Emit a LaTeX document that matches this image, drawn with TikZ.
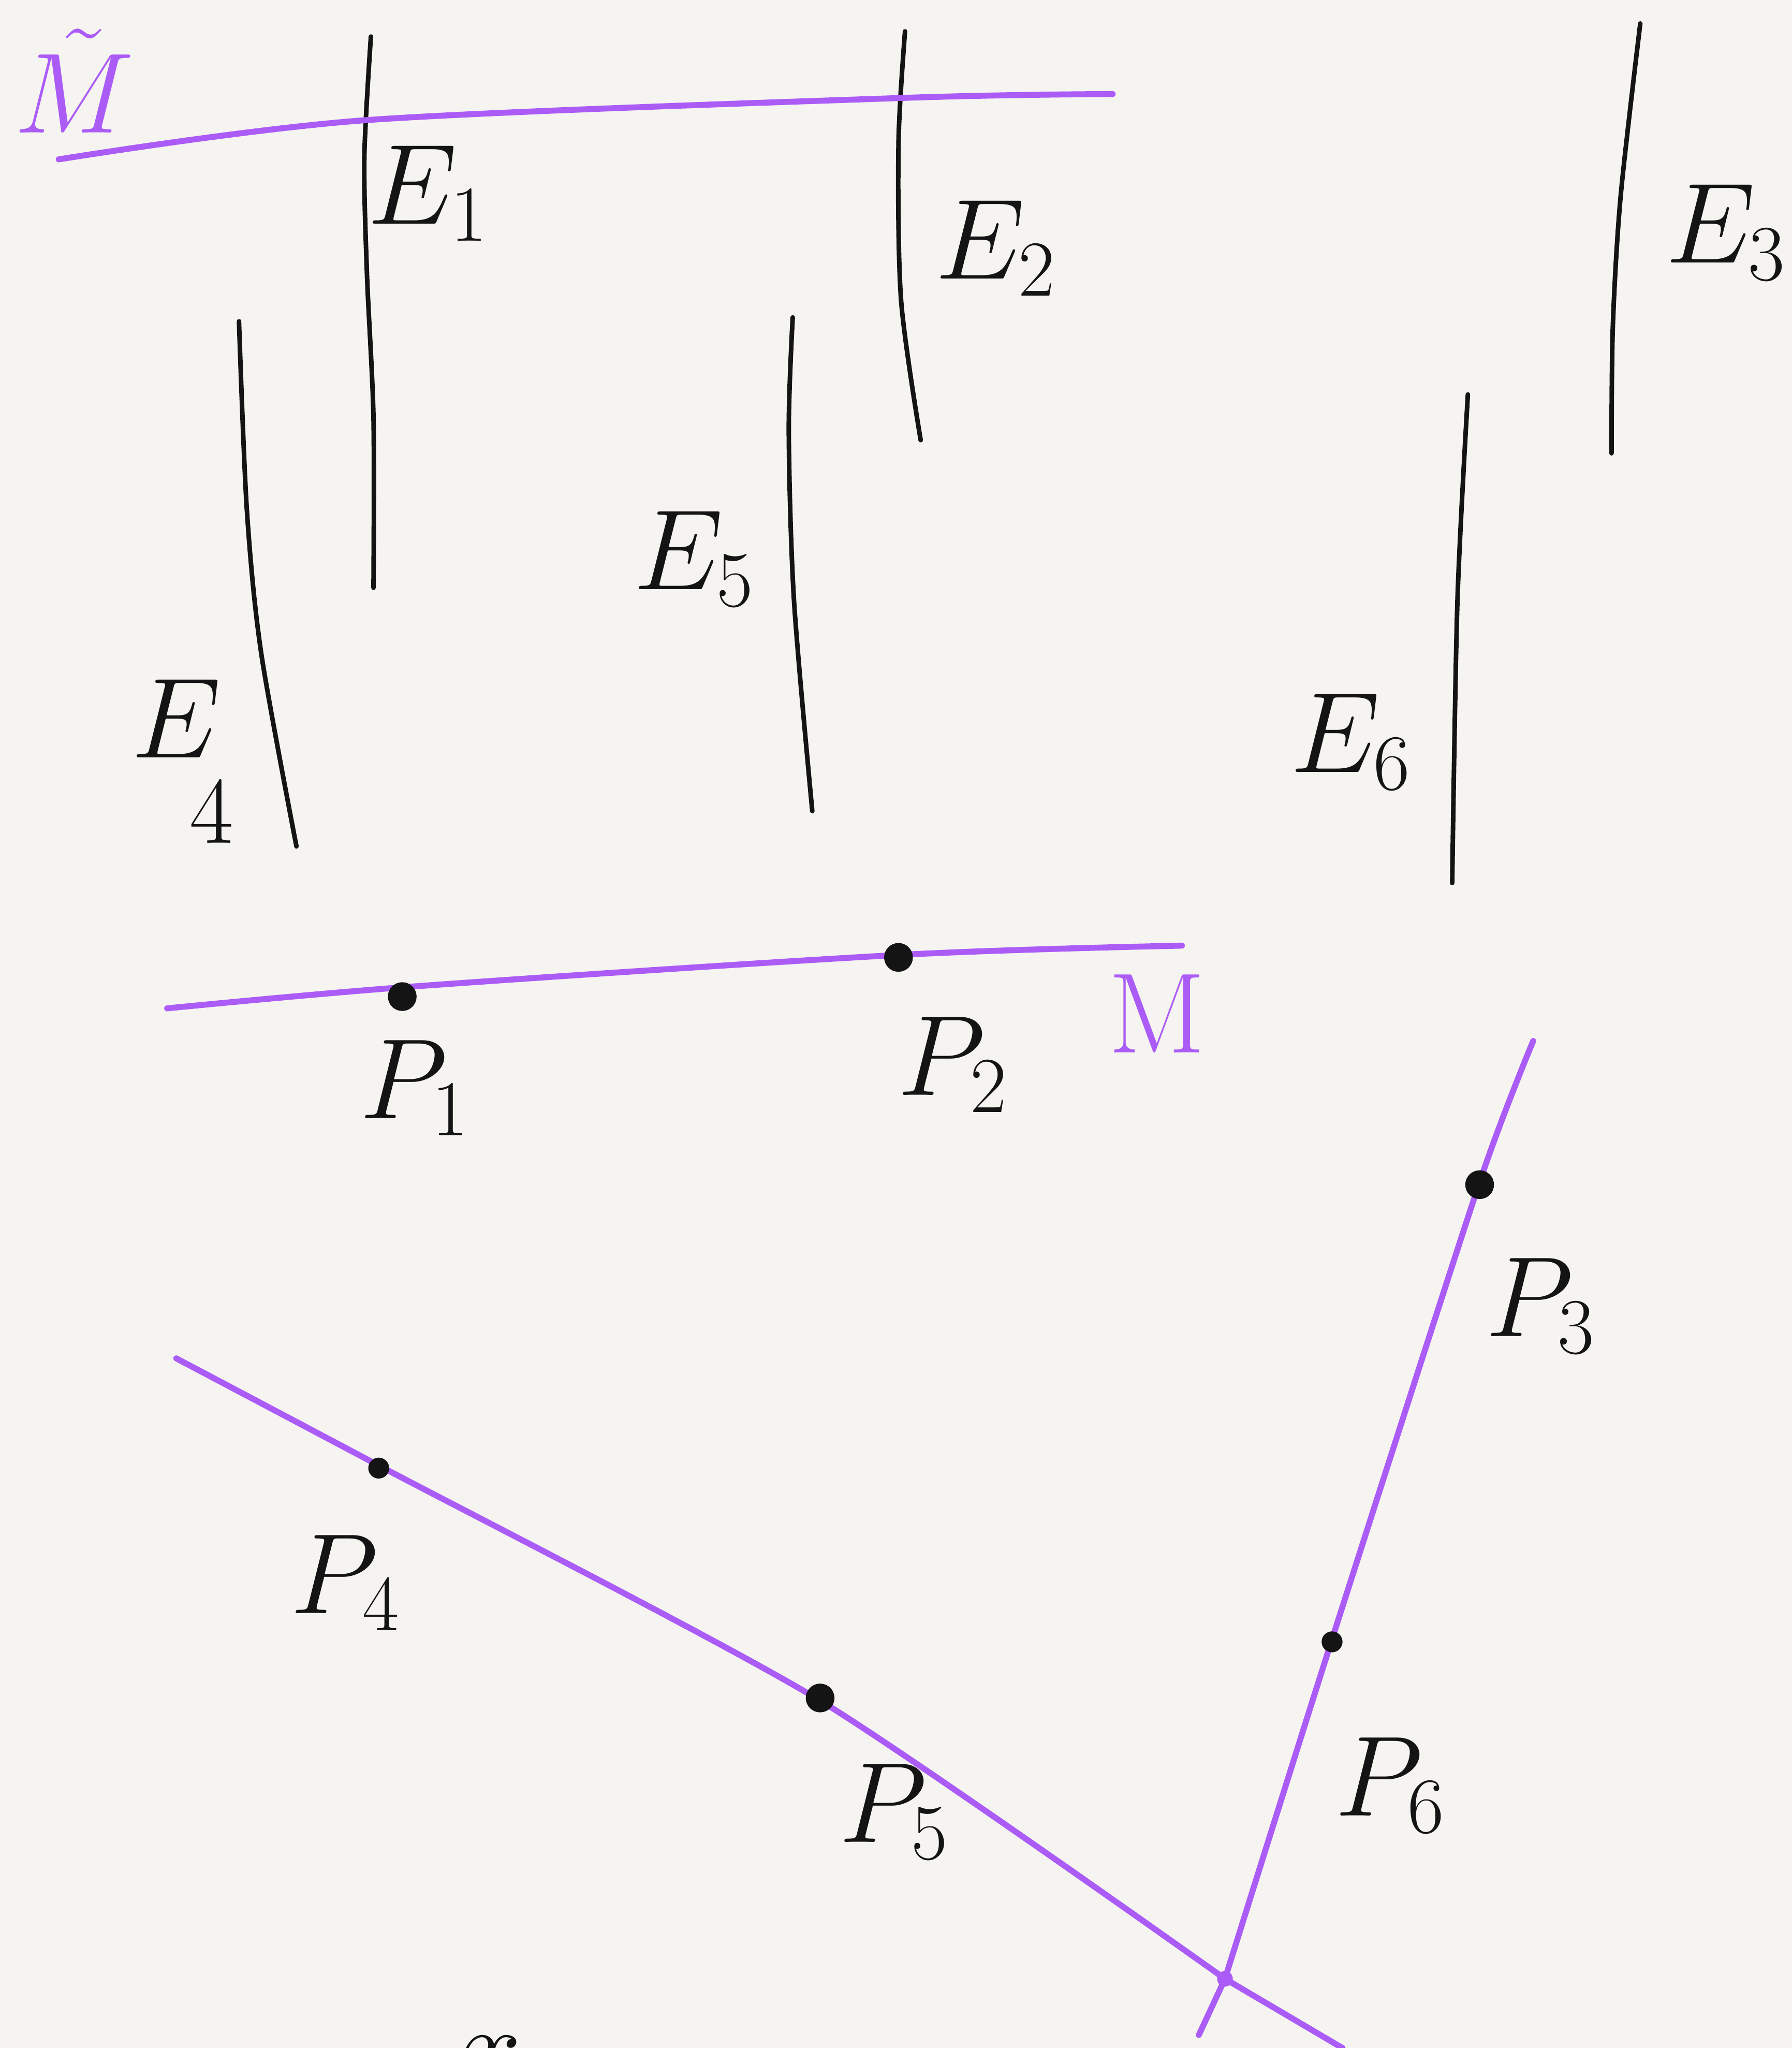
\documentclass[tikz,border=0pt]{standalone}
\usepackage{tikz}
\usetikzlibrary{calc}
\definecolor{paper}{RGB}{245,244,241}
\definecolor{ink}{RGB}{20,20,20}
\definecolor{violet}{RGB}{172,92,246}

\begin{document}
\begin{tikzpicture}[
        % 1 unit = one pixel of the shrunk sketch
        x=0.1mm, y=-0.1mm,
        every node/.style={font=\fontsize{25}{30}\selectfont, text=ink},
        eline/.style={draw=ink, line width=1pt, line cap=round},
        mline/.style={draw=violet, line width=1.3pt, line cap=round},
        pt/.style={fill=ink, circle, inner sep=0pt, minimum size=2.2mm},
        vlabel/.style={text=violet}
    ]
    % --- Sheet ---
    \fill[paper] (0,0) rectangle (1372,1568);
    \useasboundingbox (0,0) rectangle (1372,1568);
    \clip (0,0) rectangle (1372,1568);

    % --- Lines E_i ---
    \draw[eline] plot[smooth] coordinates {(284,28) (279,120) (281,210) (286,320) (286,450)};
    \draw[eline] plot[smooth] coordinates {(693,24) (688,110) (690,230) (705,337)};
    \draw[eline] plot[smooth] coordinates {(1256,18) (1241,150) (1235,250) (1234,347)};
    \draw[eline] plot[smooth] coordinates {(183,246) (189,390) (200,500) (227,648)};
    \draw[eline] plot[smooth] coordinates {(607,243) (604,330) (608,460) (622,621)};
    \draw[eline] plot[smooth] coordinates {(1124,302) (1116,460) (1112,676)};

    \node (E1) at (328,148) {$E_1$};
    \node (E2) at (763,190) {$E_2$};
    \node (E3) at (1322,178) {$E_3$};
    \node (E5) at (532,428) {$E_5$};
    \node[inner sep=0pt] (E4) at (135,550) {$E$};
    \node[inner sep=0pt, font=\fontsize{20}{24}\selectfont] (E4i) at (162,622) {$4$};
    \node (E6) at (1035,568) {$E_6$};

    % --- Curves M and M tilde ---
    \draw[mline] plot[smooth] coordinates {(45,122) (280,92) (690,75) (852,72)};
    \node[vlabel, inner sep=0pt] (Mt) at (57,62) {\fontsize{30}{34}\selectfont$\tilde{M}$};

    \draw[mline] plot[smooth] coordinates {(128,772) (320,755) (690,731) (905,724)};
    \node[vlabel] (M) at (886,776) {$\mathrm{M}$};

    % --- Points on M ---
    \node[pt] (P1) at (308,763) {};
    \node[pt] (P2) at (688,733) {};
    \node (P1l) at (318,833) {$P_1$};
    \node (P2l) at (730,815) {$P_2$};

    % --- Lower lines ---
    \coordinate (X) at (938,1515);
    \draw[mline] plot[smooth, tension=0.4] coordinates {(1174,797) (1133,905) (1020,1255) (X)} -- (918,1558);
    \draw[mline] plot[smooth, tension=0.4] coordinates {(135,1040) (290,1122) (628,1302) (X)} -- (1028,1568);
    \fill[violet] (X) circle (0.6mm);

    \node[pt] (P3) at (1133,907) {};
    \node[pt, minimum size=1.6mm] (P6) at (1020,1257) {};
    \node[pt, minimum size=1.6mm] (P4) at (290,1124) {};
    \node[pt] (P5) at (628,1300) {};

    \node (P3l) at (1180,1000) {$P_3$};
    \node (P6l) at (1065,1367) {$P_6$};
    \node (P4l) at (265,1212) {$P_4$};
    \node (P5l) at (685,1387) {$P_5$};

    % --- cut-off label at the bottom edge ---
    \node (xl) at (375,1578) {$x$};
\end{tikzpicture}
\end{document}
